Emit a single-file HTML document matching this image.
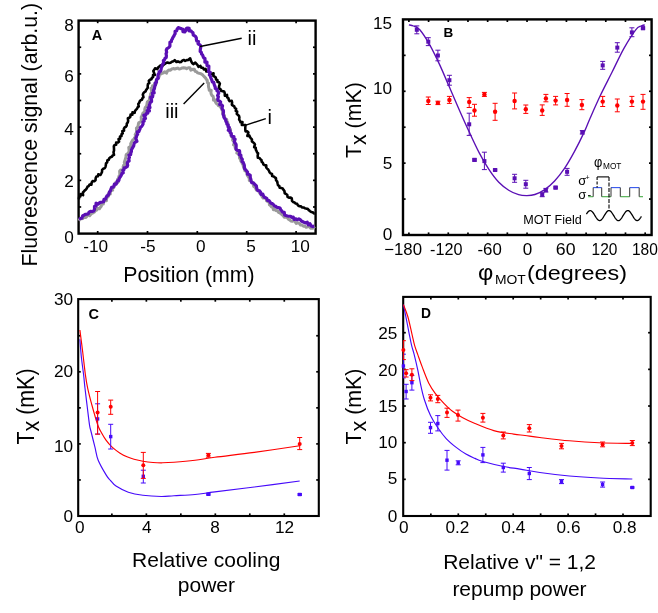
<!DOCTYPE html>
<html><head><meta charset="utf-8"><title>Figure</title>
<style>
html,body{margin:0;padding:0;background:#fff;}
body{width:658px;height:613px;overflow:hidden;font-family:"Liberation Sans", sans-serif;}
svg{display:block;will-change:transform;position:absolute;left:0;top:0;font-family:"Liberation Sans", sans-serif;}
</style></head><body>
<svg width="658" height="613" viewBox="0 0 658 613">
<rect x="0" y="0" width="658" height="613" fill="#fff"/>
<rect x="78.6" y="20.6" width="237" height="213" fill="none" stroke="#000" stroke-width="2.4"/>
<line x1="97.7" y1="233.6" x2="97.7" y2="231" stroke="#000" stroke-width="1.7" />
<line x1="97.7" y1="20.6" x2="97.7" y2="23.2" stroke="#000" stroke-width="1.7" />
<line x1="147.5" y1="233.6" x2="147.5" y2="231" stroke="#000" stroke-width="1.7" />
<line x1="147.5" y1="20.6" x2="147.5" y2="23.2" stroke="#000" stroke-width="1.7" />
<line x1="197.3" y1="233.6" x2="197.3" y2="231" stroke="#000" stroke-width="1.7" />
<line x1="197.3" y1="20.6" x2="197.3" y2="23.2" stroke="#000" stroke-width="1.7" />
<line x1="246.7" y1="233.6" x2="246.7" y2="231" stroke="#000" stroke-width="1.7" />
<line x1="246.7" y1="20.6" x2="246.7" y2="23.2" stroke="#000" stroke-width="1.7" />
<line x1="296.1" y1="233.6" x2="296.1" y2="231" stroke="#000" stroke-width="1.7" />
<line x1="296.1" y1="20.6" x2="296.1" y2="23.2" stroke="#000" stroke-width="1.7" />
<line x1="78.6" y1="206.98" x2="81.2" y2="206.98" stroke="#000" stroke-width="1.7" />
<line x1="315.6" y1="206.98" x2="313" y2="206.98" stroke="#000" stroke-width="1.7" />
<line x1="78.6" y1="180.36" x2="81.2" y2="180.36" stroke="#000" stroke-width="1.7" />
<line x1="315.6" y1="180.36" x2="313" y2="180.36" stroke="#000" stroke-width="1.7" />
<line x1="78.6" y1="153.74" x2="81.2" y2="153.74" stroke="#000" stroke-width="1.7" />
<line x1="315.6" y1="153.74" x2="313" y2="153.74" stroke="#000" stroke-width="1.7" />
<line x1="78.6" y1="127.12" x2="81.2" y2="127.12" stroke="#000" stroke-width="1.7" />
<line x1="315.6" y1="127.12" x2="313" y2="127.12" stroke="#000" stroke-width="1.7" />
<line x1="78.6" y1="100.5" x2="81.2" y2="100.5" stroke="#000" stroke-width="1.7" />
<line x1="315.6" y1="100.5" x2="313" y2="100.5" stroke="#000" stroke-width="1.7" />
<line x1="78.6" y1="73.88" x2="81.2" y2="73.88" stroke="#000" stroke-width="1.7" />
<line x1="315.6" y1="73.88" x2="313" y2="73.88" stroke="#000" stroke-width="1.7" />
<line x1="78.6" y1="47.26" x2="81.2" y2="47.26" stroke="#000" stroke-width="1.7" />
<line x1="315.6" y1="47.26" x2="313" y2="47.26" stroke="#000" stroke-width="1.7" />
<rect x="403" y="19.4" width="248.6" height="215.6" fill="none" stroke="#000" stroke-width="2.4"/>
<line x1="408.9" y1="235" x2="408.9" y2="232.4" stroke="#000" stroke-width="1.7" />
<line x1="408.9" y1="19.4" x2="408.9" y2="22" stroke="#000" stroke-width="1.7" />
<line x1="428.59" y1="235" x2="428.59" y2="232.4" stroke="#000" stroke-width="1.7" />
<line x1="428.59" y1="19.4" x2="428.59" y2="22" stroke="#000" stroke-width="1.7" />
<line x1="448.28" y1="235" x2="448.28" y2="232.4" stroke="#000" stroke-width="1.7" />
<line x1="448.28" y1="19.4" x2="448.28" y2="22" stroke="#000" stroke-width="1.7" />
<line x1="467.97" y1="235" x2="467.97" y2="232.4" stroke="#000" stroke-width="1.7" />
<line x1="467.97" y1="19.4" x2="467.97" y2="22" stroke="#000" stroke-width="1.7" />
<line x1="487.66" y1="235" x2="487.66" y2="232.4" stroke="#000" stroke-width="1.7" />
<line x1="487.66" y1="19.4" x2="487.66" y2="22" stroke="#000" stroke-width="1.7" />
<line x1="507.35" y1="235" x2="507.35" y2="232.4" stroke="#000" stroke-width="1.7" />
<line x1="507.35" y1="19.4" x2="507.35" y2="22" stroke="#000" stroke-width="1.7" />
<line x1="527.04" y1="235" x2="527.04" y2="232.4" stroke="#000" stroke-width="1.7" />
<line x1="527.04" y1="19.4" x2="527.04" y2="22" stroke="#000" stroke-width="1.7" />
<line x1="546.73" y1="235" x2="546.73" y2="232.4" stroke="#000" stroke-width="1.7" />
<line x1="546.73" y1="19.4" x2="546.73" y2="22" stroke="#000" stroke-width="1.7" />
<line x1="566.42" y1="235" x2="566.42" y2="232.4" stroke="#000" stroke-width="1.7" />
<line x1="566.42" y1="19.4" x2="566.42" y2="22" stroke="#000" stroke-width="1.7" />
<line x1="586.11" y1="235" x2="586.11" y2="232.4" stroke="#000" stroke-width="1.7" />
<line x1="586.11" y1="19.4" x2="586.11" y2="22" stroke="#000" stroke-width="1.7" />
<line x1="605.8" y1="235" x2="605.8" y2="232.4" stroke="#000" stroke-width="1.7" />
<line x1="605.8" y1="19.4" x2="605.8" y2="22" stroke="#000" stroke-width="1.7" />
<line x1="625.49" y1="235" x2="625.49" y2="232.4" stroke="#000" stroke-width="1.7" />
<line x1="625.49" y1="19.4" x2="625.49" y2="22" stroke="#000" stroke-width="1.7" />
<line x1="645.18" y1="235" x2="645.18" y2="232.4" stroke="#000" stroke-width="1.7" />
<line x1="645.18" y1="19.4" x2="645.18" y2="22" stroke="#000" stroke-width="1.7" />
<line x1="403" y1="199.07" x2="405.6" y2="199.07" stroke="#000" stroke-width="1.7" />
<line x1="651.6" y1="199.07" x2="649" y2="199.07" stroke="#000" stroke-width="1.7" />
<line x1="403" y1="163.14" x2="405.6" y2="163.14" stroke="#000" stroke-width="1.7" />
<line x1="651.6" y1="163.14" x2="649" y2="163.14" stroke="#000" stroke-width="1.7" />
<line x1="403" y1="127.21" x2="405.6" y2="127.21" stroke="#000" stroke-width="1.7" />
<line x1="651.6" y1="127.21" x2="649" y2="127.21" stroke="#000" stroke-width="1.7" />
<line x1="403" y1="91.28" x2="405.6" y2="91.28" stroke="#000" stroke-width="1.7" />
<line x1="651.6" y1="91.28" x2="649" y2="91.28" stroke="#000" stroke-width="1.7" />
<line x1="403" y1="55.35" x2="405.6" y2="55.35" stroke="#000" stroke-width="1.7" />
<line x1="651.6" y1="55.35" x2="649" y2="55.35" stroke="#000" stroke-width="1.7" />
<rect x="78.2" y="299.1" width="240.6" height="216.9" fill="none" stroke="#000" stroke-width="2.1"/>
<line x1="111.88" y1="516" x2="111.88" y2="513.4" stroke="#000" stroke-width="1.7" />
<line x1="111.88" y1="299.1" x2="111.88" y2="301.7" stroke="#000" stroke-width="1.7" />
<line x1="146.36" y1="516" x2="146.36" y2="513.4" stroke="#000" stroke-width="1.7" />
<line x1="146.36" y1="299.1" x2="146.36" y2="301.7" stroke="#000" stroke-width="1.7" />
<line x1="180.84" y1="516" x2="180.84" y2="513.4" stroke="#000" stroke-width="1.7" />
<line x1="180.84" y1="299.1" x2="180.84" y2="301.7" stroke="#000" stroke-width="1.7" />
<line x1="215.32" y1="516" x2="215.32" y2="513.4" stroke="#000" stroke-width="1.7" />
<line x1="215.32" y1="299.1" x2="215.32" y2="301.7" stroke="#000" stroke-width="1.7" />
<line x1="249.8" y1="516" x2="249.8" y2="513.4" stroke="#000" stroke-width="1.7" />
<line x1="249.8" y1="299.1" x2="249.8" y2="301.7" stroke="#000" stroke-width="1.7" />
<line x1="284.28" y1="516" x2="284.28" y2="513.4" stroke="#000" stroke-width="1.7" />
<line x1="284.28" y1="299.1" x2="284.28" y2="301.7" stroke="#000" stroke-width="1.7" />
<line x1="78.2" y1="479.95" x2="80.8" y2="479.95" stroke="#000" stroke-width="1.7" />
<line x1="318.8" y1="479.95" x2="316.2" y2="479.95" stroke="#000" stroke-width="1.7" />
<line x1="78.2" y1="443.9" x2="80.8" y2="443.9" stroke="#000" stroke-width="1.7" />
<line x1="318.8" y1="443.9" x2="316.2" y2="443.9" stroke="#000" stroke-width="1.7" />
<line x1="78.2" y1="407.85" x2="80.8" y2="407.85" stroke="#000" stroke-width="1.7" />
<line x1="318.8" y1="407.85" x2="316.2" y2="407.85" stroke="#000" stroke-width="1.7" />
<line x1="78.2" y1="371.8" x2="80.8" y2="371.8" stroke="#000" stroke-width="1.7" />
<line x1="318.8" y1="371.8" x2="316.2" y2="371.8" stroke="#000" stroke-width="1.7" />
<line x1="78.2" y1="335.75" x2="80.8" y2="335.75" stroke="#000" stroke-width="1.7" />
<line x1="318.8" y1="335.75" x2="316.2" y2="335.75" stroke="#000" stroke-width="1.7" />
<rect x="403.2" y="296.9" width="247.5" height="219.1" fill="none" stroke="#000" stroke-width="2.1"/>
<line x1="430.85" y1="516" x2="430.85" y2="513.4" stroke="#000" stroke-width="1.7" />
<line x1="430.85" y1="296.9" x2="430.85" y2="299.5" stroke="#000" stroke-width="1.7" />
<line x1="458.3" y1="516" x2="458.3" y2="513.4" stroke="#000" stroke-width="1.7" />
<line x1="458.3" y1="296.9" x2="458.3" y2="299.5" stroke="#000" stroke-width="1.7" />
<line x1="485.75" y1="516" x2="485.75" y2="513.4" stroke="#000" stroke-width="1.7" />
<line x1="485.75" y1="296.9" x2="485.75" y2="299.5" stroke="#000" stroke-width="1.7" />
<line x1="513.2" y1="516" x2="513.2" y2="513.4" stroke="#000" stroke-width="1.7" />
<line x1="513.2" y1="296.9" x2="513.2" y2="299.5" stroke="#000" stroke-width="1.7" />
<line x1="540.65" y1="516" x2="540.65" y2="513.4" stroke="#000" stroke-width="1.7" />
<line x1="540.65" y1="296.9" x2="540.65" y2="299.5" stroke="#000" stroke-width="1.7" />
<line x1="568.1" y1="516" x2="568.1" y2="513.4" stroke="#000" stroke-width="1.7" />
<line x1="568.1" y1="296.9" x2="568.1" y2="299.5" stroke="#000" stroke-width="1.7" />
<line x1="595.55" y1="516" x2="595.55" y2="513.4" stroke="#000" stroke-width="1.7" />
<line x1="595.55" y1="296.9" x2="595.55" y2="299.5" stroke="#000" stroke-width="1.7" />
<line x1="623" y1="516" x2="623" y2="513.4" stroke="#000" stroke-width="1.7" />
<line x1="623" y1="296.9" x2="623" y2="299.5" stroke="#000" stroke-width="1.7" />
<line x1="403.2" y1="479.34" x2="405.8" y2="479.34" stroke="#000" stroke-width="1.7" />
<line x1="650.7" y1="479.34" x2="648.1" y2="479.34" stroke="#000" stroke-width="1.7" />
<line x1="403.2" y1="442.68" x2="405.8" y2="442.68" stroke="#000" stroke-width="1.7" />
<line x1="650.7" y1="442.68" x2="648.1" y2="442.68" stroke="#000" stroke-width="1.7" />
<line x1="403.2" y1="406.02" x2="405.8" y2="406.02" stroke="#000" stroke-width="1.7" />
<line x1="650.7" y1="406.02" x2="648.1" y2="406.02" stroke="#000" stroke-width="1.7" />
<line x1="403.2" y1="369.36" x2="405.8" y2="369.36" stroke="#000" stroke-width="1.7" />
<line x1="650.7" y1="369.36" x2="648.1" y2="369.36" stroke="#000" stroke-width="1.7" />
<line x1="403.2" y1="332.7" x2="405.8" y2="332.7" stroke="#000" stroke-width="1.7" />
<line x1="650.7" y1="332.7" x2="648.1" y2="332.7" stroke="#000" stroke-width="1.7" />
<path d="M78.9,220.71 L79.83,219.11 L81.27,218.72 L82.73,218.41 L84.01,217.57 L85.56,217.54 L86.77,216.54 L87.61,214.7 L89.61,215.71 L90.68,214.48 L91.79,213.38 L93.16,212.82 L94.39,212 L95.38,210.7 L96.72,210.12 L97.31,208.15 L99.35,208.8 L100.26,207.45 L101.28,206.3 L101.43,203.81 L103.33,204.1 L103.63,201.89 L104.62,200.77 L106.39,200.81 L106.61,198.58 L107.41,197.23 L108.48,196.28 L108.27,193.69 L110.3,193.98 L110.35,191.82 L110.98,190.38 L112.67,190.18 L112.39,187.74 L113.99,187.41 L114.23,185.58 L115.18,184.55 L115.46,182.8 L117.4,182.78 L118.36,181.74 L117.7,179.08 L118.76,178.16 L118.88,176.3 L119.83,175.27 L119.75,173.25 L119.62,171.2 L120.46,170.09 L122.25,169.85 L123.46,169.06 L123.1,166.85 L123.58,165.4 L124.86,164.68 L124.31,162.31 L124.86,160.93 L125.26,159.42 L125.64,157.88 L125.96,156.29 L126.2,154.62 L127.5,153.92 L128.28,152.74 L129.14,151.64 L129,149.62 L128.77,147.54 L129.93,146.7 L130.86,145.67 L130.72,143.66 L131.37,142.37 L132.13,141.18 L132.78,139.88 L134.14,139.23 L134.53,137.71 L136.06,137.21 L135.18,134.54 L135.98,133.38 L136.67,132.13 L136.56,130.14 L136.4,128.1 L137.51,127.22 L138.12,125.88 L138.36,124.19 L138.75,122.64 L140.26,122.15 L140.99,120.91 L141.36,119.35 L141.13,117.21 L141.85,115.97 L142.41,114.57 L142.97,113.18 L143.97,112.21 L144.84,111.11 L144.77,109.12 L145.21,107.62 L146.19,106.63 L146.79,105.28 L147.02,103.59 L147.31,101.98 L148.27,100.96 L149.51,100.21 L149.52,98.34 L149.85,96.76 L150.53,95.5 L150.65,93.73 L151.57,92.68 L151.55,90.76 L150.93,88.26 L152.32,87.64 L152.48,85.83 L154.14,85.48 L154.69,84.04 L156.25,83.64 L156.15,81.49 L156.81,80.12 L157.66,78.95 L158.5,77.75 L159.21,76.39 L159.3,74.11 L160.96,73.93 L162.21,73.22 L163.54,72.76 L164.75,71.79 L166.49,73.19 L167.61,70.92 L168.94,69.93 L170.52,70.19 L171.79,69 L173.24,68.57 L174.81,68.98 L176.26,68.55 L177.71,68.11 L179.24,69.07 L180.7,68.57 L182.2,67.97 L183.72,67.72 L185.23,67.9 L186.64,68.67 L188.34,67.78 L189.92,67.84 L190.87,70.17 L192.72,69.3 L194.35,69.33 L195.18,71.35 L196.62,71.69 L197.7,72.9 L199.11,73.27 L200.58,73.62 L202,74.28 L203.17,75.56 L204.3,76.75 L205.46,77.77 L206.26,79.23 L207.24,80.35 L207.37,82.38 L208.59,83.17 L208.38,85.35 L208.58,87.08 L209.01,88.58 L209.22,90.29 L211.21,90.35 L210.91,92.55 L211.25,94.18 L211.93,95.5 L213.12,96.31 L213.44,98.06 L213.46,100.2 L215.55,99.95 L215.55,102.16 L216.34,103.44 L217.56,104.19 L218.3,105.51 L219.75,106.02 L220.62,107.17 L221.42,108.39 L221.99,109.87 L222.51,111.41 L222.61,113.42 L223.65,114.37 L224.41,115.63 L224.56,117.51 L225.22,118.84 L226.74,119.32 L226.84,121.19 L227.66,122.34 L227.93,124 L228.41,125.44 L228.34,127.35 L229.23,128.41 L230.48,129.17 L230.57,130.92 L230.26,133 L231.23,133.99 L231.07,135.94 L231.87,137.08 L232.77,138.14 L232.58,140.12 L233.83,140.87 L234.69,141.96 L233.49,144.88 L235.69,144.78 L235.07,147.21 L235.43,148.77 L236.34,149.82 L237.52,150.63 L236.8,153.19 L238.32,153.69 L239.1,154.87 L239.46,156.44 L239.52,158.31 L240.51,159.3 L240.78,160.98 L241.9,161.85 L242.17,163.53 L243.01,164.68 L243.3,166.37 L243.78,167.87 L244.58,169.06 L244.85,170.81 L246.12,171.52 L246.9,172.73 L247.06,174.61 L247.73,175.98 L248.56,177.16 L249.34,178.4 L249.3,180.59 L251,180.8 L251.91,181.91 L252.92,182.89 L253.34,184.63 L253.69,186.49 L254.94,187.21 L255.75,188.52 L256.42,190.02 L257.85,190.48 L259.33,190.86 L259.54,193.07 L260.71,193.89 L261.47,195.34 L262.2,196.87 L263.13,198.12 L264.9,197.98 L266.12,198.73 L266.61,200.78 L267.76,201.69 L269.38,201.77 L269.39,204.74 L270.57,205.62 L271.47,206.98 L273.13,206.99 L273.33,209.63 L275.04,209.55 L276.1,210.65 L277.73,210.69 L278.53,212.29 L279.85,212.91 L280.99,213.88 L282.17,214.8 L283.36,215.7 L284.26,217.33 L285.87,217.29 L287.31,217.6 L288.35,219.09 L289.66,219.84 L290.83,221.1 L292.31,221.35 L294.26,219.89 L295.19,222.09 L296.37,223.38 L298.05,222.86 L299.42,223.49 L300.58,224.98 L302.09,225.07 L303.37,226.15 L304.9,226.17 L306.19,227.27 L307.79,226.9 L309.4,226.46 L310.59,228.14 L312.09,228.27 L313.73,227.57 L314.97,228.43" fill="none" stroke="#9a9a9a" stroke-width="3.0" stroke-linejoin="round"/>
<path d="M78.9,199.47 L79.1,197.03 L80.37,196.33 L80.47,194.13 L83.06,195.15 L82.85,192.53 L83.91,191.57 L84.81,190.38 L85.96,189.52 L86.83,188.26 L87.52,186.72 L88.78,186.01 L89.54,184.51 L91.4,184.76 L91.69,182.5 L92.56,181.17 L94.34,181.25 L95.47,180.32 L95.69,178.05 L96.4,176.56 L97.96,176.28 L98.3,174.31 L100.52,174.9 L101.28,173.5 L101.98,172.03 L102.14,169.86 L103.15,168.82 L104.6,168.36 L105.41,167.07 L105.83,165.29 L106.01,163.21 L107.16,162.36 L107.37,160.32 L108.81,159.85 L109.31,158.19 L110.44,157.33 L111.85,156.78 L112.63,155.49 L114.03,154.92 L113.52,152.16 L114.01,150.59 L113.98,148.48 L113.84,146.27 L114.61,145.07 L116.2,144.7 L116.15,142.65 L118.03,142.57 L119.08,141.63 L118.54,139.1 L120.09,138.67 L119.99,136.6 L121.46,136.08 L121.54,134.19 L122.78,133.43 L122.33,131.05 L124.05,130.76 L123.89,128.66 L124.65,127.45 L125.93,126.75 L126.73,125.58 L126.82,123.66 L127.7,122.55 L128.13,120.89 L127.86,118.29 L129.28,117.76 L130.31,116.72 L130.58,114.63 L132.4,114.71 L132.47,112.32 L134.58,112.81 L135.04,111 L135.92,109.8 L137,108.87 L137.61,107.38 L138.73,106.5 L138.28,103.93 L139.24,102.91 L139.67,101.34 L140.57,100.26 L142.03,99.74 L142.44,98.16 L143.47,97.2 L142.83,94.61 L143.41,93.22 L144.37,92.19 L145.6,91.44 L146.11,89.98 L146.96,88.85 L147.78,87.69 L147.71,85.63 L147.99,83.91 L149.28,83.21 L148.83,80.75 L149.89,79.82 L151.4,79.35 L151.84,77.81 L153.09,77.09 L153.01,74.98 L154.86,74.97 L153.32,71.02 L154.21,69.75 L155.03,68.25 L157.28,69.14 L158.09,67.55 L159.29,66.52 L160.5,65.38 L162.25,66.03 L163.45,64.87 L164.74,64.01 L166.03,63.03 L167.46,62.52 L169.07,62.94 L170.54,62.7 L171.9,61.68 L173.36,61.27 L174.74,60.22 L176.49,62.04 L177.91,61.31 L179.55,62.17 L180.99,62.05 L182.29,60.7 L183.73,59.94 L185.15,60.85 L186.7,60.17 L188.24,60.05 L190.2,58.31 L191.09,61.09 L192.09,63.02 L193.31,64.09 L195.3,62.66 L196.45,63.95 L197.58,65.18 L198.51,66.84 L200.45,65.94 L201.28,67.82 L202.92,67.69 L203.83,69.43 L205.59,68.89 L206.38,71.52 L208,71.25 L209.24,72.13 L210.41,72.89 L211.29,74.1 L213.53,73.22 L213.37,75.97 L214.68,76.58 L215.73,77.56 L216.03,79.42 L217.44,79.96 L217.47,82.02 L219.11,82.34 L219.87,83.57 L219.04,86.46 L219.11,88.47 L220.48,89.14 L221.03,90.78 L222.6,91.14 L224.14,91.44 L224.72,93.16 L224.85,95.73 L227.02,94.96 L227.16,97.42 L228.44,98.05 L228.76,99.97 L229.62,101.08 L231.72,100.78 L232.1,102.5 L231.86,104.83 L233.07,105.59 L234.27,106.38 L234.77,107.88 L236.1,108.54 L235.76,110.91 L237.17,111.46 L236.76,113.92 L237.79,114.89 L238.92,115.74 L239.39,117.29 L239.12,119.6 L239.97,120.75 L240.51,122.21 L242.5,122.17 L241.81,124.93 L243.7,124.98 L245.49,125.11 L245.26,127.43 L245.29,129.51 L245.53,131.41 L247.38,131.41 L248.41,132.38 L247.35,135.97 L249.46,135.63 L250.01,137.2 L250.94,138.29 L251.94,139.31 L251.92,141.43 L253.04,142.3 L254.16,143.17 L254.94,144.39 L254.18,147.2 L255.72,147.63 L255.8,149.58 L256.48,150.91 L257.03,152.39 L258.1,153.3 L257.66,155.87 L257.87,157.73 L259.53,158.02 L260.39,159.17 L261.49,160.07 L261.7,161.95 L262.89,162.74 L263.36,164.35 L264.6,165.09 L266.26,165.32 L266.24,167.52 L267.17,168.62 L268.23,169.56 L269.02,170.84 L269.59,172.4 L270.62,173.39 L272.01,173.91 L272.17,176.05 L273.67,176.43 L274.77,177.33 L275.93,178.16 L276.09,180.38 L277.15,181.37 L277.54,183.29 L278.01,185.12 L279.22,185.9 L279.66,187.81 L281.23,188.06 L282.69,188.45 L283.49,189.86 L284.44,191.03 L284.73,193.26 L285.99,193.97 L287.2,194.77 L287.59,196.89 L288.86,197.59 L290.64,197.44 L291.76,198.37 L292.04,200.81 L293.08,201.95 L294.49,202.41 L295.61,203.44 L297.08,203.74 L297.94,205.41 L299.22,206.19 L300.8,206.19 L301.92,207.38 L303.47,207.44 L304.75,208.23 L306.19,208.6 L307.7,208.77 L308.75,210.15 L309.97,211.09 L311.22,211.95 L312.68,212.28 L313.85,213.39 L314.77,213.33" fill="none" stroke="#000" stroke-width="2.6" stroke-linejoin="round"/>
<path d="M78.9,218.94 L80.58,218.47 L81.97,217.97 L82.69,215.73 L84.06,215.16 L85.31,214.32 L86.81,214.09 L88.31,213.81 L89.14,212.02 L90.41,211.27 L92.14,211.47 L93.56,211 L94.51,209.57 L94.51,206.33 L96.07,206.18 L96.08,203.11 L98.32,204.2 L99.24,202.86 L100.55,202.22 L102.13,202.06 L103.62,201.71 L103.93,199.37 L105.46,199.09 L106.17,197.44 L106.93,195.92 L108.23,195.25 L109.04,193.84 L109.44,191.86 L110.45,190.8 L110.97,189.07 L111.56,187.44 L113.12,187.16 L114,185.95 L114.39,184.12 L116.18,184.09 L116.84,182.63 L117.27,180.92 L118.86,180.6 L119.17,178.79 L119.82,177.4 L120.7,176.27 L121.38,174.95 L121.92,173.49 L123.23,172.8 L122.81,170.41 L123.98,169.59 L124.15,167.81 L125.83,167.48 L127.06,166.72 L127.68,165.37 L127.31,163.09 L127.83,161.66 L129.15,160.99 L128.73,158.65 L129.44,157.41 L128.95,154.98 L130.68,154.7 L130.79,152.86 L131.4,151.51 L131.48,149.63 L132.21,148.39 L132.95,147.17 L133.68,145.92 L133.93,144.22 L134.47,142.8 L135.62,141.96 L136.93,141.28 L135.78,138.24 L136.4,136.9 L136.82,135.37 L137.67,134.25 L137.21,131.89 L138.97,131.63 L139.44,130.14 L140.02,128.78 L140.46,127.26 L141.66,126.47 L142.39,125.23 L143.06,123.94 L142.94,121.9 L144.15,121.12 L143.92,119 L145.44,118.51 L143.92,115.21 L145.83,115.07 L146.13,113.46 L147.78,113.08 L147.2,110.68 L149.45,110.82 L148.16,107.82 L149.97,107.56 L149.37,105.19 L149.85,103.77 L150.31,102.33 L151.59,101.6 L151.5,99.7 L150.72,97.2 L152.54,96.93 L152.82,95.35 L152.38,93.16 L154.17,92.86 L153.35,90.36 L154.17,89.24 L154.55,87.75 L154.8,86.18 L155.47,84.94 L155.18,82.92 L156.5,82.22 L156.37,80.33 L156.83,78.92 L158.27,78.31 L157.91,76.23 L158.06,74.55 L158.92,73.47 L159.1,71.8 L160.53,71.19 L161.05,69.81 L161.23,68.11 L161.81,66.76 L162.1,65.13 L162.84,63.91 L163.76,62.86 L163.37,60.59 L164.51,59.74 L165,58.3 L166.2,57.51 L166.4,55.81 L166.07,53.69 L166.64,52.35 L166.28,50.21 L166.82,48.85 L167.99,48.02 L169.16,47.2 L169.93,46.03 L169.91,44.16 L169.94,42.3 L171.29,41.65 L171.59,40.02 L172.35,38.81 L172.91,37.4 L173.76,36.27 L174.37,34.86 L175.16,33.64 L175.07,31.21 L176.63,30.88 L177.18,28.95 L178.33,27.65 L180.11,28.17 L181.46,28.76 L182.87,29.26 L182.94,31.75 L184.73,32.01 L185.77,30.62 L186.1,28.81 L187.05,28.07 L187.95,28.08 L189.16,28.34 L189.05,30.93 L190.92,30.76 L191.88,31.92 L193.02,32.84 L193.23,35.13 L194.51,35.68 L195.58,36.56 L196.29,37.83 L196.4,39.63 L196.8,41.13 L198.53,41.45 L198.01,43.77 L199.3,44.48 L200.39,45.35 L200.77,46.91 L200.31,49.34 L200.17,51.45 L201.32,52.26 L201.52,53.98 L202.58,54.88 L203.01,56.36 L203.59,57.7 L204.96,58.35 L204.98,60.17 L204.87,62.09 L207.01,62.09 L206.9,64.01 L207,65.76 L208.86,65.97 L208.82,67.84 L208.73,69.79 L208.6,71.81 L210.2,72.21 L209.36,74.99 L210.34,76.01 L210.69,77.65 L211.36,78.97 L211.91,80.38 L212.29,81.95 L213.84,82.39 L214.06,84.08 L214.52,85.53 L215.16,86.81 L215.25,88.54 L216.93,88.95 L216.9,90.77 L218.09,91.59 L218.77,92.83 L217.58,95.58 L218.39,96.7 L217.74,99 L218.13,100.47 L219.49,101.14 L220.65,101.99 L219.67,104.57 L221.62,104.76 L222.53,105.8 L222.01,108.05 L222.54,109.42 L223.39,110.52 L223.49,112.26 L223.1,114.43 L223.67,115.77 L223.93,117.38 L224.76,118.51 L225.59,119.63 L225.86,121.24 L226.65,122.4 L226.86,124.07 L228.13,124.81 L228.01,126.79 L229.28,127.51 L228.3,130.31 L229.98,130.66 L230.05,132.5 L231.25,133.3 L231.27,135.2 L232.07,136.38 L233.94,136.52 L233.76,138.64 L235.1,139.3 L234.21,142.08 L235.12,143.15 L236.02,144.21 L236.17,145.99 L236.03,148.02 L236.32,149.64 L237.56,150.4 L239.46,150.55 L239.74,152.19 L239.21,154.58 L240.86,154.94 L240.9,156.82 L241.43,158.25 L242.32,159.32 L242.01,161.59 L243.2,162.38 L243.77,163.79 L244.31,165.25 L244.41,167.16 L244.72,168.86 L245.72,169.86 L246.63,170.94 L247.56,172.02 L247.41,174.26 L249.09,174.51 L250.24,175.35 L250.25,177.47 L250.77,179.03 L251.14,180.8 L251.57,182.54 L253.23,182.76 L254.26,183.77 L255.16,184.93 L256.34,185.74 L256.59,187.82 L257.11,189.57 L258.05,190.75 L259.65,190.96 L260.56,192.18 L260.89,194.31 L262.78,194.05 L263.41,195.79 L264.28,197.18 L265.68,197.68 L266.83,198.6 L267.48,200.45 L269.07,200.58 L269.99,201.93 L270.96,203.19 L272.37,203.64 L273.48,204.63 L274.43,205.93 L275.84,206.37 L276.91,207.46 L278.51,207.53 L279.94,207.92 L280.64,209.7 L281.72,210.77 L282.66,212.17 L284.22,212.23 L284.66,214.97 L286.03,215.55 L287.46,215.96 L288.92,216.26 L290.47,216.23 L291.66,217.37 L293.26,217.14 L294.17,219.41 L295.89,218.75 L297.14,219.81 L298.89,218.91 L300.21,219.67 L301.42,221.03 L302.8,221.7 L304.17,222.45 L305.59,222.95 L307.24,222.2 L308.3,224.77 L309.99,223.73 L311.15,226.08 L312.6,226.54 L314.29,226.1" fill="none" stroke="#5A0FB4" stroke-width="3.2" stroke-linejoin="round"/>
<text x="73.9" y="30.9" font-size="17.2" text-anchor="end" font-weight="normal" fill="#000" >8</text>
<text x="73.9" y="82" font-size="17.2" text-anchor="end" font-weight="normal" fill="#000" >6</text>
<text x="73.9" y="135.3" font-size="17.2" text-anchor="end" font-weight="normal" fill="#000" >4</text>
<text x="73.9" y="186.8" font-size="17.2" text-anchor="end" font-weight="normal" fill="#000" >2</text>
<text x="73.9" y="243.1" font-size="17.2" text-anchor="end" font-weight="normal" fill="#000" >0</text>
<text x="95.7" y="252.1" font-size="17.2" text-anchor="middle" font-weight="normal" fill="#000" >-10</text>
<text x="148" y="252.1" font-size="17.2" text-anchor="middle" font-weight="normal" fill="#000" >-5</text>
<text x="200.8" y="252.1" font-size="17.2" text-anchor="middle" font-weight="normal" fill="#000" >0</text>
<text x="251" y="252.1" font-size="17.2" text-anchor="middle" font-weight="normal" fill="#000" >5</text>
<text x="300.2" y="252.1" font-size="17.2" text-anchor="middle" font-weight="normal" fill="#000" >10</text>
<text x="189" y="282.2" font-size="21.3" text-anchor="middle" font-weight="normal" fill="#000" >Position (mm)</text>
<text transform="translate(36.7,266.5) rotate(-90) scale(1,1.07)" font-size="21" text-anchor="start" textLength="263.6" lengthAdjust="spacingAndGlyphs">Fluorescence signal (arb.u.)</text>
<text x="91.8" y="39.9" font-size="14.5" text-anchor="start" font-weight="bold" fill="#000" >A</text>
<text x="251.9" y="45" font-size="20" text-anchor="middle" font-weight="normal" fill="#000" >ii</text>
<line x1="200" y1="46.5" x2="241.7" y2="38.3" stroke="#000" stroke-width="1.4" />
<text x="269.7" y="124.3" font-size="20" text-anchor="middle" font-weight="normal" fill="#000" >i</text>
<line x1="244.4" y1="125.6" x2="265.8" y2="118.6" stroke="#000" stroke-width="1.4" />
<text x="171.9" y="118" font-size="20" text-anchor="middle" font-weight="normal" fill="#000" >iii</text>
<line x1="183.6" y1="104" x2="204.2" y2="83" stroke="#000" stroke-width="1.4" />
<path d="M408.9,24.9C409.67,25.08 411.68,25.18 413.5,26C415.32,26.82 417.12,26.7 419.8,29.8C422.48,32.9 426.32,38.83 429.6,44.6C432.88,50.37 436.2,57.32 439.5,64.4C442.8,71.48 446.1,79.52 449.4,87.1C452.7,94.68 456,102.43 459.3,109.9C462.6,117.37 465.9,124.78 469.2,131.9C472.5,139.02 475.82,146.35 479.1,152.6C482.38,158.85 485.62,164.45 488.9,169.4C492.18,174.35 495.5,178.83 498.8,182.3C502.1,185.77 505.4,188.13 508.7,190.2C512,192.27 515.55,193.8 518.6,194.7C521.65,195.6 524.28,195.63 527,195.6C529.72,195.57 531.93,195.5 534.9,194.5C537.87,193.5 541.52,191.85 544.8,189.6C548.08,187.35 551.32,184.53 554.6,181C557.88,177.47 561.2,173.3 564.5,168.4C567.8,163.5 571.1,157.68 574.4,151.6C577.7,145.52 581.67,137.5 584.3,131.9C586.93,126.3 587.57,123.98 590.2,118C592.83,112.02 596.47,103.62 600.1,96C603.73,88.38 608.05,80.2 612,72.3C615.95,64.4 619.85,55.68 623.8,48.6C627.75,41.52 632.83,33.57 635.7,29.8C638.57,26.03 639.48,26.82 641,26C642.52,25.18 644.17,25.08 644.8,24.9" fill="none" stroke="#5A0FB4" stroke-width="1.35"/>
<line x1="428.3" y1="97" x2="428.3" y2="104.5" stroke="#ff0000" stroke-width="1.0" />
<line x1="425.8" y1="97" x2="430.8" y2="97" stroke="#ff0000" stroke-width="1.0" />
<line x1="425.8" y1="104.5" x2="430.8" y2="104.5" stroke="#ff0000" stroke-width="1.0" />
<circle cx="428.3" cy="101" r="2.2" fill="#ff0000"/>
<line x1="437.9" y1="101.2" x2="437.9" y2="104.6" stroke="#ff0000" stroke-width="1.0" />
<line x1="435.4" y1="101.2" x2="440.4" y2="101.2" stroke="#ff0000" stroke-width="1.0" />
<line x1="435.4" y1="104.6" x2="440.4" y2="104.6" stroke="#ff0000" stroke-width="1.0" />
<circle cx="437.9" cy="102.9" r="2.2" fill="#ff0000"/>
<line x1="449.4" y1="96.4" x2="449.4" y2="103.4" stroke="#ff0000" stroke-width="1.0" />
<line x1="446.9" y1="96.4" x2="451.9" y2="96.4" stroke="#ff0000" stroke-width="1.0" />
<line x1="446.9" y1="103.4" x2="451.9" y2="103.4" stroke="#ff0000" stroke-width="1.0" />
<circle cx="449.4" cy="100" r="2.2" fill="#ff0000"/>
<line x1="469.2" y1="97.6" x2="469.2" y2="107.5" stroke="#ff0000" stroke-width="1.0" />
<line x1="466.7" y1="97.6" x2="471.7" y2="97.6" stroke="#ff0000" stroke-width="1.0" />
<line x1="466.7" y1="107.5" x2="471.7" y2="107.5" stroke="#ff0000" stroke-width="1.0" />
<circle cx="469.2" cy="102" r="2.2" fill="#ff0000"/>
<line x1="474.5" y1="104.3" x2="474.5" y2="116.2" stroke="#ff0000" stroke-width="1.0" />
<line x1="472" y1="104.3" x2="477" y2="104.3" stroke="#ff0000" stroke-width="1.0" />
<line x1="472" y1="116.2" x2="477" y2="116.2" stroke="#ff0000" stroke-width="1.0" />
<circle cx="474.5" cy="110.5" r="2.2" fill="#ff0000"/>
<line x1="484.4" y1="92.4" x2="484.4" y2="96.4" stroke="#ff0000" stroke-width="1.0" />
<line x1="481.9" y1="92.4" x2="486.9" y2="92.4" stroke="#ff0000" stroke-width="1.0" />
<line x1="481.9" y1="96.4" x2="486.9" y2="96.4" stroke="#ff0000" stroke-width="1.0" />
<circle cx="484.4" cy="94.4" r="2.2" fill="#ff0000"/>
<line x1="495.1" y1="103.3" x2="495.1" y2="120.3" stroke="#ff0000" stroke-width="1.0" />
<line x1="492.6" y1="103.3" x2="497.6" y2="103.3" stroke="#ff0000" stroke-width="1.0" />
<line x1="492.6" y1="120.3" x2="497.6" y2="120.3" stroke="#ff0000" stroke-width="1.0" />
<circle cx="495.1" cy="111.8" r="2.2" fill="#ff0000"/>
<line x1="514.6" y1="93" x2="514.6" y2="108.9" stroke="#ff0000" stroke-width="1.0" />
<line x1="512.1" y1="93" x2="517.1" y2="93" stroke="#ff0000" stroke-width="1.0" />
<line x1="512.1" y1="108.9" x2="517.1" y2="108.9" stroke="#ff0000" stroke-width="1.0" />
<circle cx="514.6" cy="101" r="2.2" fill="#ff0000"/>
<line x1="525.8" y1="105" x2="525.8" y2="113.4" stroke="#ff0000" stroke-width="1.0" />
<line x1="523.3" y1="105" x2="528.3" y2="105" stroke="#ff0000" stroke-width="1.0" />
<line x1="523.3" y1="113.4" x2="528.3" y2="113.4" stroke="#ff0000" stroke-width="1.0" />
<circle cx="525.8" cy="109.3" r="2.2" fill="#ff0000"/>
<line x1="542.2" y1="104.9" x2="542.2" y2="115.4" stroke="#ff0000" stroke-width="1.0" />
<line x1="539.7" y1="104.9" x2="544.7" y2="104.9" stroke="#ff0000" stroke-width="1.0" />
<line x1="539.7" y1="115.4" x2="544.7" y2="115.4" stroke="#ff0000" stroke-width="1.0" />
<circle cx="542.2" cy="110.5" r="2.2" fill="#ff0000"/>
<line x1="545.9" y1="94.4" x2="545.9" y2="101.8" stroke="#ff0000" stroke-width="1.0" />
<line x1="543.4" y1="94.4" x2="548.4" y2="94.4" stroke="#ff0000" stroke-width="1.0" />
<line x1="543.4" y1="101.8" x2="548.4" y2="101.8" stroke="#ff0000" stroke-width="1.0" />
<circle cx="545.9" cy="98.4" r="2.2" fill="#ff0000"/>
<line x1="555.6" y1="96.4" x2="555.6" y2="104.9" stroke="#ff0000" stroke-width="1.0" />
<line x1="553.1" y1="96.4" x2="558.1" y2="96.4" stroke="#ff0000" stroke-width="1.0" />
<line x1="553.1" y1="104.9" x2="558.1" y2="104.9" stroke="#ff0000" stroke-width="1.0" />
<circle cx="555.6" cy="100.6" r="2.2" fill="#ff0000"/>
<line x1="567.1" y1="93.5" x2="567.1" y2="106.3" stroke="#ff0000" stroke-width="1.0" />
<line x1="564.6" y1="93.5" x2="569.6" y2="93.5" stroke="#ff0000" stroke-width="1.0" />
<line x1="564.6" y1="106.3" x2="569.6" y2="106.3" stroke="#ff0000" stroke-width="1.0" />
<circle cx="567.1" cy="100" r="2.2" fill="#ff0000"/>
<line x1="581.9" y1="99.6" x2="581.9" y2="109.7" stroke="#ff0000" stroke-width="1.0" />
<line x1="579.4" y1="99.6" x2="584.4" y2="99.6" stroke="#ff0000" stroke-width="1.0" />
<line x1="579.4" y1="109.7" x2="584.4" y2="109.7" stroke="#ff0000" stroke-width="1.0" />
<circle cx="581.9" cy="104.9" r="2.2" fill="#ff0000"/>
<line x1="602.7" y1="96.4" x2="602.7" y2="106.5" stroke="#ff0000" stroke-width="1.0" />
<line x1="600.2" y1="96.4" x2="605.2" y2="96.4" stroke="#ff0000" stroke-width="1.0" />
<line x1="600.2" y1="106.5" x2="605.2" y2="106.5" stroke="#ff0000" stroke-width="1.0" />
<circle cx="602.7" cy="101.6" r="2.2" fill="#ff0000"/>
<line x1="617.3" y1="99" x2="617.3" y2="111.8" stroke="#ff0000" stroke-width="1.0" />
<line x1="614.8" y1="99" x2="619.8" y2="99" stroke="#ff0000" stroke-width="1.0" />
<line x1="614.8" y1="111.8" x2="619.8" y2="111.8" stroke="#ff0000" stroke-width="1.0" />
<circle cx="617.3" cy="105.5" r="2.2" fill="#ff0000"/>
<line x1="631.9" y1="96.4" x2="631.9" y2="106.5" stroke="#ff0000" stroke-width="1.0" />
<line x1="629.4" y1="96.4" x2="634.4" y2="96.4" stroke="#ff0000" stroke-width="1.0" />
<line x1="629.4" y1="106.5" x2="634.4" y2="106.5" stroke="#ff0000" stroke-width="1.0" />
<circle cx="631.9" cy="101.6" r="2.2" fill="#ff0000"/>
<line x1="643" y1="94.4" x2="643" y2="109.3" stroke="#ff0000" stroke-width="1.0" />
<line x1="640.5" y1="94.4" x2="645.5" y2="94.4" stroke="#ff0000" stroke-width="1.0" />
<line x1="640.5" y1="109.3" x2="645.5" y2="109.3" stroke="#ff0000" stroke-width="1.0" />
<circle cx="643" cy="101.6" r="2.2" fill="#ff0000"/>
<line x1="416.8" y1="25.9" x2="416.8" y2="33.8" stroke="#5A0FB4" stroke-width="1.0" />
<line x1="414.3" y1="25.9" x2="419.3" y2="25.9" stroke="#5A0FB4" stroke-width="1.0" />
<line x1="414.3" y1="33.8" x2="419.3" y2="33.8" stroke="#5A0FB4" stroke-width="1.0" />
<rect x="414.8" y="27.8" width="4.0" height="4.0" fill="#5A0FB4"/>
<line x1="428.3" y1="37.7" x2="428.3" y2="45.6" stroke="#5A0FB4" stroke-width="1.0" />
<line x1="425.8" y1="37.7" x2="430.8" y2="37.7" stroke="#5A0FB4" stroke-width="1.0" />
<line x1="425.8" y1="45.6" x2="430.8" y2="45.6" stroke="#5A0FB4" stroke-width="1.0" />
<rect x="426.3" y="39.7" width="4.0" height="4.0" fill="#5A0FB4"/>
<line x1="437.9" y1="50.2" x2="437.9" y2="60.8" stroke="#5A0FB4" stroke-width="1.0" />
<line x1="435.4" y1="50.2" x2="440.4" y2="50.2" stroke="#5A0FB4" stroke-width="1.0" />
<line x1="435.4" y1="60.8" x2="440.4" y2="60.8" stroke="#5A0FB4" stroke-width="1.0" />
<rect x="435.9" y="53.5" width="4.0" height="4.0" fill="#5A0FB4"/>
<line x1="449.4" y1="75.3" x2="449.4" y2="85.2" stroke="#5A0FB4" stroke-width="1.0" />
<line x1="446.9" y1="75.3" x2="451.9" y2="75.3" stroke="#5A0FB4" stroke-width="1.0" />
<line x1="446.9" y1="85.2" x2="451.9" y2="85.2" stroke="#5A0FB4" stroke-width="1.0" />
<rect x="447.4" y="78.2" width="4.0" height="4.0" fill="#5A0FB4"/>
<line x1="469.2" y1="113.2" x2="469.2" y2="135.4" stroke="#5A0FB4" stroke-width="1.0" />
<line x1="466.7" y1="113.2" x2="471.7" y2="113.2" stroke="#5A0FB4" stroke-width="1.0" />
<line x1="466.7" y1="135.4" x2="471.7" y2="135.4" stroke="#5A0FB4" stroke-width="1.0" />
<rect x="467.2" y="122.3" width="4.0" height="4.0" fill="#5A0FB4"/>
<rect x="472.3" y="157.9" width="4.4" height="4" fill="#5A0FB4"/>
<rect x="472.5" y="157.9" width="4.0" height="4.0" fill="#5A0FB4"/>
<line x1="484.4" y1="152.2" x2="484.4" y2="169.6" stroke="#5A0FB4" stroke-width="1.0" />
<line x1="481.9" y1="152.2" x2="486.9" y2="152.2" stroke="#5A0FB4" stroke-width="1.0" />
<line x1="481.9" y1="169.6" x2="486.9" y2="169.6" stroke="#5A0FB4" stroke-width="1.0" />
<rect x="482.4" y="159.1" width="4.0" height="4.0" fill="#5A0FB4"/>
<rect x="492.9" y="168.3" width="4.4" height="3.4" fill="#5A0FB4"/>
<rect x="493.1" y="168" width="4.0" height="4.0" fill="#5A0FB4"/>
<line x1="514.6" y1="174.3" x2="514.6" y2="182.3" stroke="#5A0FB4" stroke-width="1.0" />
<line x1="512.1" y1="174.3" x2="517.1" y2="174.3" stroke="#5A0FB4" stroke-width="1.0" />
<line x1="512.1" y1="182.3" x2="517.1" y2="182.3" stroke="#5A0FB4" stroke-width="1.0" />
<rect x="512.6" y="176.3" width="4.0" height="4.0" fill="#5A0FB4"/>
<line x1="525.8" y1="180.3" x2="525.8" y2="188.2" stroke="#5A0FB4" stroke-width="1.0" />
<line x1="523.3" y1="180.3" x2="528.3" y2="180.3" stroke="#5A0FB4" stroke-width="1.0" />
<line x1="523.3" y1="188.2" x2="528.3" y2="188.2" stroke="#5A0FB4" stroke-width="1.0" />
<rect x="523.8" y="182.2" width="4.0" height="4.0" fill="#5A0FB4"/>
<line x1="542.2" y1="192.7" x2="542.2" y2="196.7" stroke="#5A0FB4" stroke-width="1.0" />
<line x1="539.7" y1="192.7" x2="544.7" y2="192.7" stroke="#5A0FB4" stroke-width="1.0" />
<line x1="539.7" y1="196.7" x2="544.7" y2="196.7" stroke="#5A0FB4" stroke-width="1.0" />
<rect x="540.2" y="192.7" width="4.0" height="4.0" fill="#5A0FB4"/>
<line x1="545.9" y1="188.4" x2="545.9" y2="192" stroke="#5A0FB4" stroke-width="1.0" />
<line x1="543.4" y1="188.4" x2="548.4" y2="188.4" stroke="#5A0FB4" stroke-width="1.0" />
<line x1="543.4" y1="192" x2="548.4" y2="192" stroke="#5A0FB4" stroke-width="1.0" />
<rect x="543.9" y="188.2" width="4.0" height="4.0" fill="#5A0FB4"/>
<rect x="553.4" y="185.7" width="4.4" height="3.8" fill="#5A0FB4"/>
<rect x="553.6" y="185.6" width="4.0" height="4.0" fill="#5A0FB4"/>
<line x1="567.1" y1="168.4" x2="567.1" y2="175.3" stroke="#5A0FB4" stroke-width="1.0" />
<line x1="564.6" y1="168.4" x2="569.6" y2="168.4" stroke="#5A0FB4" stroke-width="1.0" />
<line x1="564.6" y1="175.3" x2="569.6" y2="175.3" stroke="#5A0FB4" stroke-width="1.0" />
<rect x="565.1" y="169.8" width="4.0" height="4.0" fill="#5A0FB4"/>
<line x1="582.3" y1="130.6" x2="582.3" y2="134" stroke="#5A0FB4" stroke-width="1.0" />
<line x1="579.8" y1="130.6" x2="584.8" y2="130.6" stroke="#5A0FB4" stroke-width="1.0" />
<line x1="579.8" y1="134" x2="584.8" y2="134" stroke="#5A0FB4" stroke-width="1.0" />
<rect x="580.3" y="130.3" width="4.0" height="4.0" fill="#5A0FB4"/>
<line x1="602.7" y1="61.4" x2="602.7" y2="69.3" stroke="#5A0FB4" stroke-width="1.0" />
<line x1="600.2" y1="61.4" x2="605.2" y2="61.4" stroke="#5A0FB4" stroke-width="1.0" />
<line x1="600.2" y1="69.3" x2="605.2" y2="69.3" stroke="#5A0FB4" stroke-width="1.0" />
<rect x="600.7" y="63.4" width="4.0" height="4.0" fill="#5A0FB4"/>
<line x1="617.3" y1="42.7" x2="617.3" y2="52.2" stroke="#5A0FB4" stroke-width="1.0" />
<line x1="614.8" y1="42.7" x2="619.8" y2="42.7" stroke="#5A0FB4" stroke-width="1.0" />
<line x1="614.8" y1="52.2" x2="619.8" y2="52.2" stroke="#5A0FB4" stroke-width="1.0" />
<rect x="615.3" y="45.6" width="4.0" height="4.0" fill="#5A0FB4"/>
<line x1="631.9" y1="27.8" x2="631.9" y2="36.7" stroke="#5A0FB4" stroke-width="1.0" />
<line x1="629.4" y1="27.8" x2="634.4" y2="27.8" stroke="#5A0FB4" stroke-width="1.0" />
<line x1="629.4" y1="36.7" x2="634.4" y2="36.7" stroke="#5A0FB4" stroke-width="1.0" />
<rect x="629.9" y="30.4" width="4.0" height="4.0" fill="#5A0FB4"/>
<rect x="640.8" y="26.3" width="4.4" height="3.8" fill="#5A0FB4"/>
<rect x="641" y="26.2" width="4.0" height="4.0" fill="#5A0FB4"/>
<text x="392.2" y="28.5" font-size="17.2" text-anchor="end" font-weight="normal" fill="#000" >15</text>
<text x="392.2" y="94.2" font-size="17.2" text-anchor="end" font-weight="normal" fill="#000" >10</text>
<text x="392.2" y="169.3" font-size="17.2" text-anchor="end" font-weight="normal" fill="#000" >5</text>
<text x="392.2" y="240.4" font-size="17.2" text-anchor="end" font-weight="normal" fill="#000" >0</text>
<text x="384.2" y="254.7" font-size="16.5" textLength="37.8" lengthAdjust="spacingAndGlyphs">−180</text>
<text x="430" y="254.7" font-size="16.5" textLength="32.4" lengthAdjust="spacingAndGlyphs">-120</text>
<text x="477.5" y="254.7" font-size="16.5" textLength="24.3" lengthAdjust="spacingAndGlyphs">-60</text>
<text x="522.8" y="254.7" font-size="16.5" textLength="9.5" lengthAdjust="spacingAndGlyphs">0</text>
<text x="555.8" y="254.7" font-size="16.5" textLength="19.7" lengthAdjust="spacingAndGlyphs">60</text>
<text x="591.6" y="254.7" font-size="16.5" textLength="25.8" lengthAdjust="spacingAndGlyphs">120</text>
<text x="631.9" y="254.7" font-size="16.5" textLength="25.9" lengthAdjust="spacingAndGlyphs">180</text>
<text x="478" y="279.6" font-size="22.5" textLength="15.3" lengthAdjust="spacingAndGlyphs">φ</text>
<text x="495" y="284" font-size="13.2" textLength="30.8" lengthAdjust="spacingAndGlyphs">MOT</text>
<text x="527" y="279.5" font-size="20.8" textLength="100" lengthAdjust="spacingAndGlyphs">(degrees)</text>
<text transform="translate(361.1,158.0) rotate(-90) scale(1.015,1.06)" font-size="21" text-anchor="start">T<tspan dy="5">x</tspan><tspan dy="-5"> (mK)</tspan></text>
<text x="443.6" y="36.5" font-size="13.5" text-anchor="start" font-weight="bold" fill="#000" >B</text>
<text x="523.2" y="223.6" font-size="12.6" text-anchor="start" font-weight="normal" fill="#000" >MOT Field</text>
<path d="M586.4,214.12 L586.9,213.34 L587.4,212.63 L587.9,212.01 L588.4,211.48 L588.9,211.06 L589.4,210.78 L589.9,210.63 L590.4,210.61 L590.9,210.74 L591.4,211 L591.9,211.39 L592.4,211.89 L592.9,212.5 L593.4,213.2 L593.9,213.96 L594.4,214.77 L594.9,215.6 L595.4,216.43 L595.9,217.24 L596.4,218 L596.9,218.7 L597.4,219.31 L597.9,219.81 L598.4,220.2 L598.9,220.46 L599.4,220.59 L599.9,220.57 L600.4,220.42 L600.9,220.14 L601.4,219.72 L601.9,219.19 L602.4,218.57 L602.9,217.86 L603.4,217.08 L603.9,216.27 L604.4,215.43 L604.9,214.6 L605.4,213.8 L605.9,213.05 L606.4,212.37 L606.9,211.78 L607.4,211.3 L607.9,210.93 L608.4,210.7 L608.9,210.6 L609.4,210.64 L609.9,210.82 L610.4,211.14 L610.9,211.57 L611.4,212.12 L611.9,212.77 L612.4,213.5 L612.9,214.28 L613.4,215.1 L613.9,215.93 L614.4,216.76 L614.9,217.55 L615.4,218.29 L615.9,218.95 L616.4,219.52 L616.9,219.98 L617.4,220.32 L617.9,220.53 L618.4,220.6 L618.9,220.53 L619.4,220.32 L619.9,219.98 L620.4,219.52 L620.9,218.95 L621.4,218.29 L621.9,217.55 L622.4,216.76 L622.9,215.93 L623.4,215.1 L623.9,214.28 L624.4,213.5 L624.9,212.77 L625.4,212.12 L625.9,211.57 L626.4,211.14 L626.9,210.82 L627.4,210.64 L627.9,210.6 L628.4,210.7 L628.9,210.93 L629.4,211.3 L629.9,211.78 L630.4,212.37 L630.9,213.05 L631.4,213.8 L631.9,214.6 L632.4,215.43 L632.9,216.27 L633.4,217.08 L633.9,217.86 L634.4,218.57 L634.9,219.19 L635.4,219.72 L635.9,220.14 L636.4,220.42 L636.9,220.57 L637.4,220.59 L637.9,220.46 L638.4,220.2 L638.9,219.81 L639.4,219.31 L639.9,218.7 L640.4,218 L640.9,217.24 L641.4,216.43" fill="none" stroke="#000" stroke-width="1.3"/>
<line x1="588.2" y1="196.7" x2="593.2" y2="196.7" stroke="#44aa44" stroke-width="1.1" />
<line x1="593.2" y1="187.6" x2="601.7" y2="187.6" stroke="#3355ee" stroke-width="1.1" />
<line x1="601.7" y1="196.7" x2="611" y2="196.7" stroke="#44aa44" stroke-width="1.1" />
<line x1="611" y1="187.6" x2="620.3" y2="187.6" stroke="#3355ee" stroke-width="1.1" />
<line x1="620.3" y1="196.7" x2="629.7" y2="196.7" stroke="#44aa44" stroke-width="1.1" />
<line x1="629.7" y1="187.6" x2="639.2" y2="187.6" stroke="#3355ee" stroke-width="1.1" />
<line x1="639.2" y1="196.7" x2="643" y2="196.7" stroke="#44aa44" stroke-width="1.1" />
<line x1="593.2" y1="187.6" x2="593.2" y2="196.7" stroke="#333" stroke-width="1.0" />
<line x1="601.7" y1="187.6" x2="601.7" y2="196.7" stroke="#333" stroke-width="1.0" />
<line x1="611" y1="187.6" x2="611" y2="196.7" stroke="#333" stroke-width="1.0" />
<line x1="620.3" y1="187.6" x2="620.3" y2="196.7" stroke="#333" stroke-width="1.0" />
<line x1="629.7" y1="187.6" x2="629.7" y2="196.7" stroke="#333" stroke-width="1.0" />
<line x1="639.2" y1="187.6" x2="639.2" y2="196.7" stroke="#333" stroke-width="1.0" />
<line x1="597.1" y1="176.9" x2="609" y2="176.9" stroke="#000" stroke-width="1.1" />
<line x1="597.1" y1="176.9" x2="597.1" y2="187.4" stroke="#000" stroke-width="1.1" stroke-dasharray="3,1.5"/>
<line x1="609" y1="176.9" x2="609" y2="209" stroke="#000" stroke-width="1.1" stroke-dasharray="4,1.5"/>
<text x="594" y="167.1" font-size="14.5" textLength="8.3" lengthAdjust="spacingAndGlyphs">φ</text>
<text x="603" y="168.5" font-size="8.6" textLength="18.4" lengthAdjust="spacingAndGlyphs">MOT</text>
<text x="578.2" y="185" font-size="13" text-anchor="start" font-weight="normal" fill="#000" >σ</text>
<text x="585.6" y="179.5" font-size="7" text-anchor="start" font-weight="normal" fill="#000" >+</text>
<text x="578.2" y="198.8" font-size="13" text-anchor="start" font-weight="normal" fill="#000" >σ</text>
<text x="587.4" y="198" font-size="11" text-anchor="start" font-weight="normal" fill="#000" >-</text>
<path d="M79.9,339.2C80.13,342.08 80.68,350.57 81.3,356.5C81.92,362.43 82.98,369.5 83.6,374.8C84.22,380.1 84.4,383.02 85,388.3C85.6,393.58 86.45,400.42 87.2,406.5C87.95,412.58 88.88,420.72 89.5,424.8C90.12,428.88 89.98,427.23 90.9,431C91.82,434.77 93.78,442.53 95,447.4C96.22,452.27 96.3,455.53 98.2,460.2C100.1,464.87 104.35,472.02 106.4,475.4C108.45,478.78 108.9,478.72 110.5,480.5C112.1,482.28 113.03,484.15 116,486.1C118.97,488.05 123.82,490.67 128.3,492.2C132.78,493.73 137.4,494.58 142.9,495.3C148.4,496.02 156.12,496.43 161.3,496.5C166.48,496.57 168.38,496.03 174,495.7C179.62,495.37 188.2,495.13 195,494.5C201.8,493.87 204.92,493.15 214.8,491.9C224.68,490.65 240.15,488.82 254.3,487C268.45,485.18 292.13,482 299.7,481" fill="none" stroke="#460AFA" stroke-width="1.15"/>
<path d="M79.9,330C80.37,333.67 81.78,344.53 82.7,352C83.62,359.47 84.57,368.75 85.4,374.8C86.23,380.85 86.55,383.02 87.7,388.3C88.85,393.58 90.63,400.42 92.3,406.5C93.97,412.58 96.33,420.72 97.7,424.8C99.07,428.88 99.12,428.45 100.5,431C101.88,433.55 104.02,437.37 106,440.1C107.98,442.83 110.12,445.27 112.4,447.4C114.68,449.53 117.27,451.33 119.7,452.9C122.13,454.47 124.62,455.73 127,456.8C129.38,457.87 131.33,458.55 134,459.3C136.67,460.05 139.83,460.77 143,461.3C146.17,461.83 149.75,462.25 153,462.5C156.25,462.75 159,462.83 162.5,462.8C166,462.77 168.58,462.72 174,462.3C179.42,461.88 188.2,461.13 195,460.3C201.8,459.47 204.92,458.62 214.8,457.3C224.68,455.98 240.15,454.32 254.3,452.4C268.45,450.48 292.13,446.9 299.7,445.8" fill="none" stroke="#ff0000" stroke-width="1.15"/>
<line x1="97.6" y1="403.8" x2="97.6" y2="434" stroke="#460AFA" stroke-width="1.0" />
<line x1="95.1" y1="403.8" x2="100.1" y2="403.8" stroke="#460AFA" stroke-width="1.0" />
<line x1="95.1" y1="434" x2="100.1" y2="434" stroke="#460AFA" stroke-width="1.0" />
<rect x="95.9" y="417.2" width="3.4" height="3.4" fill="#460AFA"/>
<line x1="110.7" y1="424.3" x2="110.7" y2="449" stroke="#460AFA" stroke-width="1.0" />
<line x1="108.2" y1="424.3" x2="113.2" y2="424.3" stroke="#460AFA" stroke-width="1.0" />
<line x1="108.2" y1="449" x2="113.2" y2="449" stroke="#460AFA" stroke-width="1.0" />
<rect x="109" y="434.9" width="3.4" height="3.4" fill="#460AFA"/>
<line x1="143.3" y1="470.2" x2="143.3" y2="483" stroke="#460AFA" stroke-width="1.0" />
<line x1="140.8" y1="470.2" x2="145.8" y2="470.2" stroke="#460AFA" stroke-width="1.0" />
<line x1="140.8" y1="483" x2="145.8" y2="483" stroke="#460AFA" stroke-width="1.0" />
<rect x="141.6" y="474.6" width="3.4" height="3.4" fill="#460AFA"/>
<rect x="206.2" y="492.8" width="4.4" height="3" fill="#460AFA"/>
<rect x="206.7" y="492.6" width="3.4" height="3.4" fill="#460AFA"/>
<rect x="297.5" y="493" width="4.4" height="3" fill="#460AFA"/>
<rect x="298" y="492.8" width="3.4" height="3.4" fill="#460AFA"/>
<line x1="97.6" y1="391.5" x2="97.6" y2="434.2" stroke="#ff0000" stroke-width="1.0" />
<line x1="95.1" y1="391.5" x2="100.1" y2="391.5" stroke="#ff0000" stroke-width="1.0" />
<line x1="95.1" y1="434.2" x2="100.1" y2="434.2" stroke="#ff0000" stroke-width="1.0" />
<circle cx="97.6" cy="412.5" r="2.0" fill="#ff0000"/>
<line x1="110.7" y1="400.1" x2="110.7" y2="414.3" stroke="#ff0000" stroke-width="1.0" />
<line x1="108.2" y1="400.1" x2="113.2" y2="400.1" stroke="#ff0000" stroke-width="1.0" />
<line x1="108.2" y1="414.3" x2="113.2" y2="414.3" stroke="#ff0000" stroke-width="1.0" />
<circle cx="110.7" cy="406.8" r="2.0" fill="#ff0000"/>
<line x1="143.3" y1="452.4" x2="143.3" y2="478.4" stroke="#ff0000" stroke-width="1.0" />
<line x1="140.8" y1="452.4" x2="145.8" y2="452.4" stroke="#ff0000" stroke-width="1.0" />
<line x1="140.8" y1="478.4" x2="145.8" y2="478.4" stroke="#ff0000" stroke-width="1.0" />
<circle cx="143.3" cy="465.3" r="2.0" fill="#ff0000"/>
<line x1="208.4" y1="453.4" x2="208.4" y2="457.2" stroke="#ff0000" stroke-width="1.0" />
<line x1="205.9" y1="453.4" x2="210.9" y2="453.4" stroke="#ff0000" stroke-width="1.0" />
<line x1="205.9" y1="457.2" x2="210.9" y2="457.2" stroke="#ff0000" stroke-width="1.0" />
<circle cx="208.4" cy="455.3" r="2.0" fill="#ff0000"/>
<line x1="299.7" y1="437.5" x2="299.7" y2="449.6" stroke="#ff0000" stroke-width="1.0" />
<line x1="297.2" y1="437.5" x2="302.2" y2="437.5" stroke="#ff0000" stroke-width="1.0" />
<line x1="297.2" y1="449.6" x2="302.2" y2="449.6" stroke="#ff0000" stroke-width="1.0" />
<circle cx="299.7" cy="443.9" r="2.0" fill="#ff0000"/>
<text x="73" y="304.8" font-size="17.2" text-anchor="end" font-weight="normal" fill="#000" >30</text>
<text x="73" y="377.2" font-size="17.2" text-anchor="end" font-weight="normal" fill="#000" >20</text>
<text x="73" y="451.7" font-size="17.2" text-anchor="end" font-weight="normal" fill="#000" >10</text>
<text x="73" y="521.6" font-size="17.2" text-anchor="end" font-weight="normal" fill="#000" >0</text>
<text x="79.7" y="533.3" font-size="17.2" text-anchor="middle" font-weight="normal" fill="#000" >0</text>
<text x="146.7" y="533.3" font-size="17.2" text-anchor="middle" font-weight="normal" fill="#000" >4</text>
<text x="215" y="533.3" font-size="17.2" text-anchor="middle" font-weight="normal" fill="#000" >8</text>
<text x="284.6" y="533.3" font-size="17.2" text-anchor="middle" font-weight="normal" fill="#000" >12</text>
<text x="206.2" y="566.5" font-size="21" text-anchor="middle" font-weight="normal" fill="#000" >Relative cooling</text>
<text x="206.4" y="592" font-size="21" text-anchor="middle" font-weight="normal" fill="#000" >power</text>
<text transform="translate(33.6,444.6) rotate(-90) scale(1.02,1.1)" font-size="21" text-anchor="start">T<tspan dy="5">x</tspan><tspan dy="-5"> (mK)</tspan></text>
<text x="88.4" y="319.1" font-size="14.5" text-anchor="start" font-weight="bold" fill="#000" >C</text>
<path d="M403.4,304.6C403.83,306.73 405.03,312.53 406,317.4C406.97,322.27 408.27,329.13 409.2,333.8C410.13,338.47 410.77,341.93 411.6,345.4C412.43,348.87 413.17,350.48 414.2,354.6C415.23,358.72 416.7,364.97 417.8,370.1C418.9,375.23 419.7,380.47 420.8,385.4C421.9,390.33 422.78,394.67 424.4,399.7C426.02,404.73 428.27,410.92 430.5,415.6C432.73,420.28 435.15,423.93 437.8,427.8C440.45,431.67 443.33,435.53 446.4,438.8C449.47,442.07 452.95,444.85 456.2,447.4C459.45,449.95 462.77,452.27 465.9,454.1C469.03,455.93 472.32,457.22 475,458.4C477.68,459.58 477.22,459.85 482,461.2C486.78,462.55 497.37,465.18 503.7,466.5C510.03,467.82 513.98,468.1 520,469.1C526.02,470.1 531.57,471.35 539.8,472.5C548.03,473.65 559.52,475.08 569.4,476C579.28,476.92 588.62,477.5 599.1,478C609.58,478.5 626.77,478.83 632.3,479" fill="none" stroke="#460AFA" stroke-width="1.15"/>
<path d="M403.4,304.6C404.13,306.58 406.38,311.63 407.8,316.5C409.22,321.37 410.77,328.98 411.9,333.8C413.03,338.62 413.62,341.93 414.6,345.4C415.58,348.87 416.5,350.93 417.8,354.6C419.1,358.27 420.57,362.63 422.4,367.4C424.23,372.17 426.63,378.83 428.8,383.2C430.97,387.57 432.88,390.25 435.4,393.6C437.92,396.95 441.05,400.35 443.9,403.3C446.75,406.25 449.43,408.95 452.5,411.3C455.57,413.65 458.55,415.37 462.3,417.4C466.05,419.43 469.75,421.3 475,423.5C480.25,425.7 487.37,428.83 493.8,430.6C500.23,432.37 508.4,433.28 513.6,434.1C518.8,434.92 520.63,434.93 525,435.5C529.37,436.07 532.4,436.62 539.8,437.5C547.2,438.38 559.52,439.92 569.4,440.8C579.28,441.68 588.62,442.37 599.1,442.8C609.58,443.23 626.77,443.3 632.3,443.4" fill="none" stroke="#ff0000" stroke-width="1.15"/>
<line x1="403.4" y1="354.2" x2="403.4" y2="377.9" stroke="#460AFA" stroke-width="1.0" />
<line x1="403.1" y1="354.2" x2="405.9" y2="354.2" stroke="#460AFA" stroke-width="1.0" />
<line x1="403.1" y1="377.9" x2="405.9" y2="377.9" stroke="#460AFA" stroke-width="1.0" />
<rect x="401.7" y="364.3" width="3.4" height="3.4" fill="#460AFA"/>
<line x1="406.1" y1="384.3" x2="406.1" y2="399" stroke="#460AFA" stroke-width="1.0" />
<line x1="403.6" y1="384.3" x2="408.6" y2="384.3" stroke="#460AFA" stroke-width="1.0" />
<line x1="403.6" y1="399" x2="408.6" y2="399" stroke="#460AFA" stroke-width="1.0" />
<rect x="404.4" y="389.8" width="3.4" height="3.4" fill="#460AFA"/>
<line x1="411.9" y1="375.4" x2="411.9" y2="390.1" stroke="#460AFA" stroke-width="1.0" />
<line x1="409.4" y1="375.4" x2="414.4" y2="375.4" stroke="#460AFA" stroke-width="1.0" />
<line x1="409.4" y1="390.1" x2="414.4" y2="390.1" stroke="#460AFA" stroke-width="1.0" />
<rect x="410.2" y="381" width="3.4" height="3.4" fill="#460AFA"/>
<line x1="430.5" y1="422.3" x2="430.5" y2="433.3" stroke="#460AFA" stroke-width="1.0" />
<line x1="428" y1="422.3" x2="433" y2="422.3" stroke="#460AFA" stroke-width="1.0" />
<line x1="428" y1="433.3" x2="433" y2="433.3" stroke="#460AFA" stroke-width="1.0" />
<rect x="428.8" y="425.9" width="3.4" height="3.4" fill="#460AFA"/>
<line x1="437.8" y1="415.6" x2="437.8" y2="430.9" stroke="#460AFA" stroke-width="1.0" />
<line x1="435.3" y1="415.6" x2="440.3" y2="415.6" stroke="#460AFA" stroke-width="1.0" />
<line x1="435.3" y1="430.9" x2="440.3" y2="430.9" stroke="#460AFA" stroke-width="1.0" />
<rect x="436.1" y="421.8" width="3.4" height="3.4" fill="#460AFA"/>
<line x1="447" y1="450.4" x2="447" y2="470.1" stroke="#460AFA" stroke-width="1.0" />
<line x1="444.5" y1="450.4" x2="449.5" y2="450.4" stroke="#460AFA" stroke-width="1.0" />
<line x1="444.5" y1="470.1" x2="449.5" y2="470.1" stroke="#460AFA" stroke-width="1.0" />
<rect x="445.3" y="458.5" width="3.4" height="3.4" fill="#460AFA"/>
<line x1="458.2" y1="460.8" x2="458.2" y2="464.8" stroke="#460AFA" stroke-width="1.0" />
<line x1="455.7" y1="460.8" x2="460.7" y2="460.8" stroke="#460AFA" stroke-width="1.0" />
<line x1="455.7" y1="464.8" x2="460.7" y2="464.8" stroke="#460AFA" stroke-width="1.0" />
<rect x="456.5" y="461.1" width="3.4" height="3.4" fill="#460AFA"/>
<line x1="482.9" y1="447.4" x2="482.9" y2="462.6" stroke="#460AFA" stroke-width="1.0" />
<line x1="480.4" y1="447.4" x2="485.4" y2="447.4" stroke="#460AFA" stroke-width="1.0" />
<line x1="480.4" y1="462.6" x2="485.4" y2="462.6" stroke="#460AFA" stroke-width="1.0" />
<rect x="481.2" y="453.2" width="3.4" height="3.4" fill="#460AFA"/>
<line x1="503.3" y1="463.2" x2="503.3" y2="472.1" stroke="#460AFA" stroke-width="1.0" />
<line x1="500.8" y1="463.2" x2="505.8" y2="463.2" stroke="#460AFA" stroke-width="1.0" />
<line x1="500.8" y1="472.1" x2="505.8" y2="472.1" stroke="#460AFA" stroke-width="1.0" />
<rect x="501.6" y="465.8" width="3.4" height="3.4" fill="#460AFA"/>
<line x1="529.3" y1="467.5" x2="529.3" y2="479.6" stroke="#460AFA" stroke-width="1.0" />
<line x1="526.8" y1="467.5" x2="531.8" y2="467.5" stroke="#460AFA" stroke-width="1.0" />
<line x1="526.8" y1="479.6" x2="531.8" y2="479.6" stroke="#460AFA" stroke-width="1.0" />
<rect x="527.6" y="471.8" width="3.4" height="3.4" fill="#460AFA"/>
<line x1="561.5" y1="479.6" x2="561.5" y2="483.6" stroke="#460AFA" stroke-width="1.0" />
<line x1="559" y1="479.6" x2="564" y2="479.6" stroke="#460AFA" stroke-width="1.0" />
<line x1="559" y1="483.6" x2="564" y2="483.6" stroke="#460AFA" stroke-width="1.0" />
<rect x="559.8" y="479.9" width="3.4" height="3.4" fill="#460AFA"/>
<line x1="602.6" y1="482" x2="602.6" y2="487.1" stroke="#460AFA" stroke-width="1.0" />
<line x1="600.1" y1="482" x2="605.1" y2="482" stroke="#460AFA" stroke-width="1.0" />
<line x1="600.1" y1="487.1" x2="605.1" y2="487.1" stroke="#460AFA" stroke-width="1.0" />
<rect x="600.9" y="482.8" width="3.4" height="3.4" fill="#460AFA"/>
<rect x="630.1" y="486.2" width="4.4" height="2.6" fill="#460AFA"/>
<rect x="630.6" y="485.8" width="3.4" height="3.4" fill="#460AFA"/>
<line x1="403.4" y1="340.7" x2="403.4" y2="359.6" stroke="#ff0000" stroke-width="1.0" />
<line x1="403.1" y1="340.7" x2="405.9" y2="340.7" stroke="#ff0000" stroke-width="1.0" />
<line x1="403.1" y1="359.6" x2="405.9" y2="359.6" stroke="#ff0000" stroke-width="1.0" />
<circle cx="403.4" cy="350" r="2.0" fill="#ff0000"/>
<line x1="406.1" y1="369.7" x2="406.1" y2="377" stroke="#ff0000" stroke-width="1.0" />
<line x1="403.6" y1="369.7" x2="408.6" y2="369.7" stroke="#ff0000" stroke-width="1.0" />
<line x1="403.6" y1="377" x2="408.6" y2="377" stroke="#ff0000" stroke-width="1.0" />
<circle cx="406.1" cy="373.3" r="2.0" fill="#ff0000"/>
<line x1="411.9" y1="368.8" x2="411.9" y2="380.6" stroke="#ff0000" stroke-width="1.0" />
<line x1="409.4" y1="368.8" x2="414.4" y2="368.8" stroke="#ff0000" stroke-width="1.0" />
<line x1="409.4" y1="380.6" x2="414.4" y2="380.6" stroke="#ff0000" stroke-width="1.0" />
<circle cx="411.9" cy="374.7" r="2.0" fill="#ff0000"/>
<line x1="430.5" y1="394.8" x2="430.5" y2="400.9" stroke="#ff0000" stroke-width="1.0" />
<line x1="428" y1="394.8" x2="433" y2="394.8" stroke="#ff0000" stroke-width="1.0" />
<line x1="428" y1="400.9" x2="433" y2="400.9" stroke="#ff0000" stroke-width="1.0" />
<circle cx="430.5" cy="397.8" r="2.0" fill="#ff0000"/>
<line x1="437.8" y1="395.4" x2="437.8" y2="402.7" stroke="#ff0000" stroke-width="1.0" />
<line x1="435.3" y1="395.4" x2="440.3" y2="395.4" stroke="#ff0000" stroke-width="1.0" />
<line x1="435.3" y1="402.7" x2="440.3" y2="402.7" stroke="#ff0000" stroke-width="1.0" />
<circle cx="437.8" cy="399.1" r="2.0" fill="#ff0000"/>
<line x1="447" y1="408.2" x2="447" y2="417.4" stroke="#ff0000" stroke-width="1.0" />
<line x1="444.5" y1="408.2" x2="449.5" y2="408.2" stroke="#ff0000" stroke-width="1.0" />
<line x1="444.5" y1="417.4" x2="449.5" y2="417.4" stroke="#ff0000" stroke-width="1.0" />
<circle cx="447" cy="412.5" r="2.0" fill="#ff0000"/>
<line x1="458" y1="410.1" x2="458" y2="421.1" stroke="#ff0000" stroke-width="1.0" />
<line x1="455.5" y1="410.1" x2="460.5" y2="410.1" stroke="#ff0000" stroke-width="1.0" />
<line x1="455.5" y1="421.1" x2="460.5" y2="421.1" stroke="#ff0000" stroke-width="1.0" />
<circle cx="458" cy="415" r="2.0" fill="#ff0000"/>
<line x1="482.9" y1="413.4" x2="482.9" y2="422.1" stroke="#ff0000" stroke-width="1.0" />
<line x1="480.4" y1="413.4" x2="485.4" y2="413.4" stroke="#ff0000" stroke-width="1.0" />
<line x1="480.4" y1="422.1" x2="485.4" y2="422.1" stroke="#ff0000" stroke-width="1.0" />
<circle cx="482.9" cy="417.7" r="2.0" fill="#ff0000"/>
<line x1="503.3" y1="432" x2="503.3" y2="438.9" stroke="#ff0000" stroke-width="1.0" />
<line x1="500.8" y1="432" x2="505.8" y2="432" stroke="#ff0000" stroke-width="1.0" />
<line x1="500.8" y1="438.9" x2="505.8" y2="438.9" stroke="#ff0000" stroke-width="1.0" />
<circle cx="503.3" cy="435.5" r="2.0" fill="#ff0000"/>
<line x1="529.3" y1="424.6" x2="529.3" y2="432" stroke="#ff0000" stroke-width="1.0" />
<line x1="526.8" y1="424.6" x2="531.8" y2="424.6" stroke="#ff0000" stroke-width="1.0" />
<line x1="526.8" y1="432" x2="531.8" y2="432" stroke="#ff0000" stroke-width="1.0" />
<circle cx="529.3" cy="428.2" r="2.0" fill="#ff0000"/>
<line x1="561.5" y1="443.4" x2="561.5" y2="448.8" stroke="#ff0000" stroke-width="1.0" />
<line x1="559" y1="443.4" x2="564" y2="443.4" stroke="#ff0000" stroke-width="1.0" />
<line x1="559" y1="448.8" x2="564" y2="448.8" stroke="#ff0000" stroke-width="1.0" />
<circle cx="561.5" cy="446" r="2.0" fill="#ff0000"/>
<line x1="602.6" y1="442" x2="602.6" y2="446.8" stroke="#ff0000" stroke-width="1.0" />
<line x1="600.1" y1="442" x2="605.1" y2="442" stroke="#ff0000" stroke-width="1.0" />
<line x1="600.1" y1="446.8" x2="605.1" y2="446.8" stroke="#ff0000" stroke-width="1.0" />
<circle cx="602.6" cy="444.4" r="2.0" fill="#ff0000"/>
<line x1="632.3" y1="440.5" x2="632.3" y2="445.6" stroke="#ff0000" stroke-width="1.0" />
<line x1="629.8" y1="440.5" x2="634.8" y2="440.5" stroke="#ff0000" stroke-width="1.0" />
<line x1="629.8" y1="445.6" x2="634.8" y2="445.6" stroke="#ff0000" stroke-width="1.0" />
<circle cx="632.3" cy="443" r="2.0" fill="#ff0000"/>
<text x="397.3" y="339" font-size="17.2" text-anchor="end" font-weight="normal" fill="#000" >25</text>
<text x="397.3" y="375.6" font-size="17.2" text-anchor="end" font-weight="normal" fill="#000" >20</text>
<text x="397.3" y="411.7" font-size="17.2" text-anchor="end" font-weight="normal" fill="#000" >15</text>
<text x="397.3" y="447.5" font-size="17.2" text-anchor="end" font-weight="normal" fill="#000" >10</text>
<text x="397.3" y="484.1" font-size="17.2" text-anchor="end" font-weight="normal" fill="#000" >5</text>
<text x="397.3" y="522.2" font-size="17.2" text-anchor="end" font-weight="normal" fill="#000" >0</text>
<text x="403.9" y="533.2" font-size="17.2" text-anchor="middle" font-weight="normal" fill="#000" >0</text>
<text x="457.4" y="533.2" font-size="17.2" text-anchor="middle" font-weight="normal" fill="#000" >0.2</text>
<text x="513.3" y="533.2" font-size="17.2" text-anchor="middle" font-weight="normal" fill="#000" >0.4</text>
<text x="568.5" y="533.2" font-size="17.2" text-anchor="middle" font-weight="normal" fill="#000" >0.6</text>
<text x="624.6" y="533.2" font-size="17.2" text-anchor="middle" font-weight="normal" fill="#000" >0.8</text>
<text x="519.6" y="569.1" font-size="21" text-anchor="middle" font-weight="normal" fill="#000" >Relative v&quot; = 1,2</text>
<text x="519.5" y="595.6" font-size="21" text-anchor="middle" font-weight="normal" fill="#000" >repump power</text>
<text transform="translate(361.1,444.6) rotate(-90) scale(1.02,1.07)" font-size="21" text-anchor="start">T<tspan dy="5">x</tspan><tspan dy="-5"> (mK)</tspan></text>
<text x="421" y="318" font-size="13.8" text-anchor="start" font-weight="bold" fill="#000" >D</text>
</svg>
</body></html>
